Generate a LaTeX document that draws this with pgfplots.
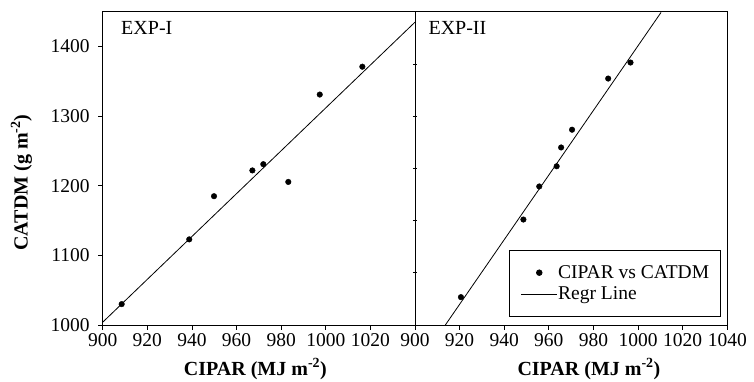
\documentclass[border=0pt]{standalone}
\usepackage{pgfplots}
\pgfplotsset{compat=1.18}
\usepackage{pgfplotstable}
\usepackage{fontspec}
\setmainfont{Liberation Serif}

\pgfplotstableread{
x y
908.5 1030
938.8 1123
949.9 1185
967.1 1222
972.0 1231
983.2 1205.5
997.3 1331
1016.4 1371
}\expone
\pgfplotstableread{
x y
920.6 1040
948.6 1151.5
955.7 1199
963.5 1228
965.5 1255
970.4 1280.5
986.6 1354
996.6 1377
}\exptwo
\pgfplotstableread{
x y
900 1004
1040 1435
}\regone
\pgfplotstableread{
x y
913.6 1000
1010.3 1449
}\regtwo

\pgfplotsset{
  dotlegend/.style={legend image code/.code={\draw[##1] plot coordinates {(18pt,0pt)};}},
  linelegend/.style={legend image code/.code={\draw[##1] (0pt,0pt) -- (36pt,0pt);}},
  common/.style={
    scale only axis, width=312.3pt, height=313.3pt,
    xmin=900, xmax=1040, ymin=1000, ymax=1450,
    axis line style={black, line width=0.8pt},
    tick style={black, line width=0.8pt},
    major tick length=4.5pt,
    xtick pos=bottom, ytick pos=left,
    tick align=outside,
    /pgf/number format/assume math mode=true,
    /pgf/number format/set thousands separator={},
    tick label style={font=\fontsize{19.5}{22}\selectfont},
    label style={font=\fontsize{20}{24}\selectfont\bfseries},
    clip=true,
  },
}

\begin{document}
\begin{tikzpicture}
\useasboundingbox (0pt,0pt) rectangle (754pt,381pt);
\begin{axis}[common,
  at={(102.7pt,56pt)}, anchor=south west,
  xtick={900,920,...,1020},
  ytick={1000,1100,...,1400},
  yticklabel style={xshift=-5pt},
  xlabel={CIPAR (MJ m\textsuperscript{-2})},
  ylabel={CATDM (g m\textsuperscript{-2})},
  xlabel style={at={(axis description cs:0.489,-0.16)}, anchor=base},
  ylabel style={at={(axis description cs:-0.26,0.455)}, anchor=center},
]
\addplot[only marks, mark=*, mark size=2.8pt, black] table {\expone};
\addplot[black, line width=0.8pt, mark=none] table {\regone};
\node[anchor=base west, font=\fontsize{20}{24}\selectfont] at (rel axis cs:0.048,0.926) {EXP-I};
\end{axis}
\begin{axis}[common,
  at={(415pt,56pt)}, anchor=south west,
  xtick={900,920,...,1040},
  ytick={1075,1150,1225,1300,1375},
  yticklabels={},
  y tick style={xshift=2.25pt},
  xlabel={CIPAR (MJ m\textsuperscript{-2})},
  xlabel style={at={(axis description cs:0.557,-0.16)}, anchor=base},
  legend cell align=left,
  legend style={at={(0.98,0.0265)}, anchor=south east, draw=black, line width=0.8pt,
    font=\fontsize{19.5}{22}\selectfont, inner xsep=11pt, inner ysep=13pt,
    row sep=3pt, nodes={inner xsep=0.5pt}},
]
\addplot[only marks, mark=*, mark size=2.8pt, black, dotlegend] table {\exptwo};
\addlegendentry{CIPAR vs CATDM}
\addplot[black, line width=0.8pt, mark=none, linelegend] table {\regtwo};
\addlegendentry{Regr Line}
\node[anchor=base west, font=\fontsize{20}{24}\selectfont] at (rel axis cs:0.032,0.926) {EXP-II};
\end{axis}
\end{tikzpicture}
\end{document}
